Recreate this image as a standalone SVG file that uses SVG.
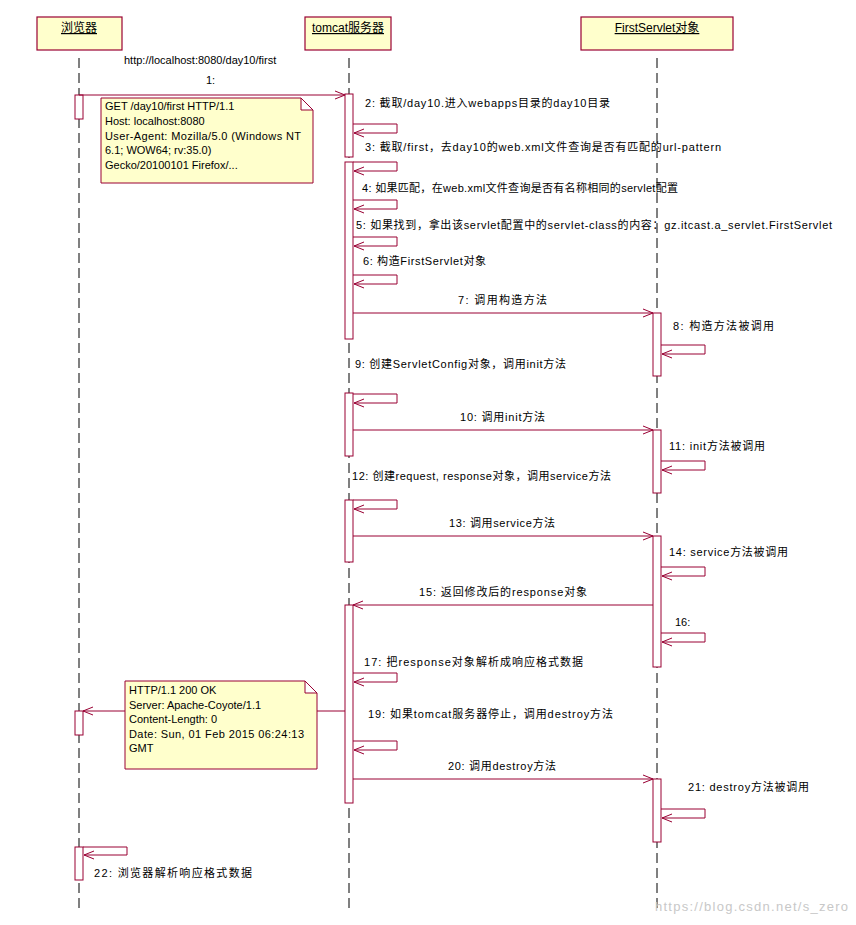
<svg xmlns="http://www.w3.org/2000/svg" width="856" height="925" viewBox="0 0 856 925">
<defs>
<style>
text{font-family:"Liberation Sans","Noto Sans CJK SC",sans-serif;font-size:11px;fill:#000}
.hd{fill:#ffffcc;stroke:#990033;stroke-width:1.2}
.ht{font-size:12px;text-decoration:underline;text-anchor:middle}
.life{stroke:#000;stroke-width:1;stroke-dasharray:10,5}
.act{fill:#fff;stroke:#990033;stroke-width:1}
.msg{fill:none;stroke:#990033;stroke-width:1;marker-end:url(#ah)}
.ln{fill:none;stroke:#990033;stroke-width:1}
.note{fill:#ffffcc;stroke:#990033;stroke-width:1}
</style>
<marker id="ah" markerWidth="12" markerHeight="10" refX="11" refY="5" orient="auto" markerUnits="userSpaceOnUse"><polyline points="1,1 11,5 1,9" fill="none" stroke="#990033" stroke-width="1"/></marker>
</defs>
<g id="browser"><rect class="hd" x="37" y="17" width="85" height="33"/><text class="ht" x="79" y="32">浏览器</text><line class="life" x1="79" y1="58" x2="79" y2="908"/></g>
<g id="tomcat"><rect class="hd" x="305" y="17" width="86" height="33"/><text class="ht" x="348" y="32">tomcat服务器</text><line class="life" x1="349" y1="58" x2="349" y2="908"/></g>
<g id="servlet"><rect class="hd" x="581" y="17" width="152" height="33"/><text class="ht" x="657" y="32">FirstServlet对象</text><line class="life" x1="657" y1="58" x2="657" y2="908"/></g>
<g id="activations">
<rect class="act" x="75" y="95" width="8" height="24"/>
<rect class="act" x="75" y="711" width="8" height="24"/>
<rect class="act" x="75" y="847" width="8" height="33"/>
<rect class="act" x="345" y="94" width="8" height="63"/>
<rect class="act" x="345" y="162" width="8" height="177"/>
<rect class="act" x="345" y="393" width="8" height="63"/>
<rect class="act" x="345" y="500" width="8" height="62"/>
<rect class="act" x="345" y="605" width="8" height="198"/>
<rect class="act" x="653" y="313" width="8" height="63"/>
<rect class="act" x="653" y="430" width="8" height="63"/>
<rect class="act" x="653" y="536" width="8" height="131"/>
<rect class="act" x="653" y="779" width="8" height="63"/>
</g>
<g id="note1"><path class="note" d="M101,98 H301 L313,110 V183 H101 Z M301,98 V110 H313"/>
<text x="105" y="110">GET /day10/first HTTP/1.1</text><text x="105" y="125">Host: localhost:8080</text><text x="105" y="140" textLength="196" lengthAdjust="spacing">User-Agent: Mozilla/5.0 (Windows NT</text><text x="105" y="154">6.1; WOW64; rv:35.0)</text><text x="105" y="169">Gecko/20100101 Firefox/...</text></g>
<g id="note2"><path class="note" d="M125,681 H305 L317,693 V769 H125 Z M305,681 V693 H317"/>
<text x="129" y="694">HTTP/1.1 200 OK</text><text x="129" y="709">Server: Apache-Coyote/1.1</text><text x="129" y="723">Content-Length: 0</text><text x="129" y="738" textLength="175" lengthAdjust="spacing">Date: Sun, 01 Feb 2015 06:24:13</text><text x="129" y="752">GMT</text></g>
<g id="connectors">
<path class="msg" d="M79,95 H345"/>
<path class="msg" d="M353,124 H397 V133 H354"/>
<path class="msg" d="M353,162 H397 V171 H354"/>
<path class="msg" d="M353,200 H397 V209 H354"/>
<path class="msg" d="M353,237 H397 V246 H354"/>
<path class="msg" d="M353,275 H397 V284 H354"/>
<path class="msg" d="M353,313 H653"/>
<path class="msg" d="M661,345 H705 V354 H662"/>
<path class="msg" d="M353,394 H397 V403 H354"/>
<path class="msg" d="M353,430 H653"/>
<path class="msg" d="M661,461 H705 V470 H662"/>
<path class="msg" d="M353,500 H397 V509 H354"/>
<path class="msg" d="M353,536 H653"/>
<path class="msg" d="M661,567 H705 V576 H662"/>
<path class="msg" d="M653,605 H353"/>
<path class="msg" d="M661,633 H705 V642 H662"/>
<path class="msg" d="M353,673 H397 V682 H354"/>
<path class="ln" d="M345,711 H317"/>
<path class="msg" d="M125,711 H83"/>
<path class="msg" d="M353,741 H397 V750 H354"/>
<path class="msg" d="M353,779 H653"/>
<path class="msg" d="M661,809 H705 V818 H662"/>
<path class="msg" d="M83,847 H127 V855 H84"/>
</g>
<g id="labels">
<text x="124" y="64">http://localhost:8080/day10/first</text>
<text x="206" y="84">1:</text>
<text x="365" y="107" textLength="245" lengthAdjust="spacing">2: 截取/day10.进入webapps目录的day10目录</text>
<text x="365" y="151" textLength="356" lengthAdjust="spacing">3: 截取/first，去day10的web.xml文件查询是否有匹配的url-pattern</text>
<text x="362" y="192" textLength="316" lengthAdjust="spacing">4: 如果匹配，在web.xml文件查询是否有名称相同的servlet配置</text>
<text x="356" y="229" textLength="476" lengthAdjust="spacing">5: 如果找到，拿出该servlet配置中的servlet-class的内容：gz.itcast.a_servlet.FirstServlet</text>
<text x="363" y="265" textLength="123" lengthAdjust="spacing">6: 构造FirstServlet对象</text>
<text x="458" y="304" textLength="89" lengthAdjust="spacing">7: 调用构造方法</text>
<text x="673" y="330" textLength="101" lengthAdjust="spacing">8: 构造方法被调用</text>
<text x="355" y="368" textLength="211" lengthAdjust="spacing">9: 创建ServletConfig对象，调用init方法</text>
<text x="460" y="421" textLength="85" lengthAdjust="spacing">10: 调用init方法</text>
<text x="669" y="450" textLength="96" lengthAdjust="spacing">11: init方法被调用</text>
<text x="352" y="480" textLength="259" lengthAdjust="spacing">12: 创建request, response对象，调用service方法</text>
<text x="449" y="527" textLength="106" lengthAdjust="spacing">13: 调用service方法</text>
<text x="669" y="556" textLength="119" lengthAdjust="spacing">14: service方法被调用</text>
<text x="419" y="596" textLength="168" lengthAdjust="spacing">15: 返回修改后的response对象</text>
<text x="675" y="626">16:</text>
<text x="364" y="666" textLength="219" lengthAdjust="spacing">17: 把response对象解析成响应格式数据</text>
<text x="368" y="718" textLength="245" lengthAdjust="spacing">19: 如果tomcat服务器停止，调用destroy方法</text>
<text x="448" y="770" textLength="108" lengthAdjust="spacing">20: 调用destroy方法</text>
<text x="688" y="791" textLength="121" lengthAdjust="spacing">21: destroy方法被调用</text>
<text x="94" y="877" textLength="158" lengthAdjust="spacing">22: 浏览器解析响应格式数据</text>
<text x="655" y="911" style="fill:#c8c8c8;font-size:13px" textLength="193" lengthAdjust="spacing">https://blog.csdn.net/s_zero</text>
</g>
</svg>
